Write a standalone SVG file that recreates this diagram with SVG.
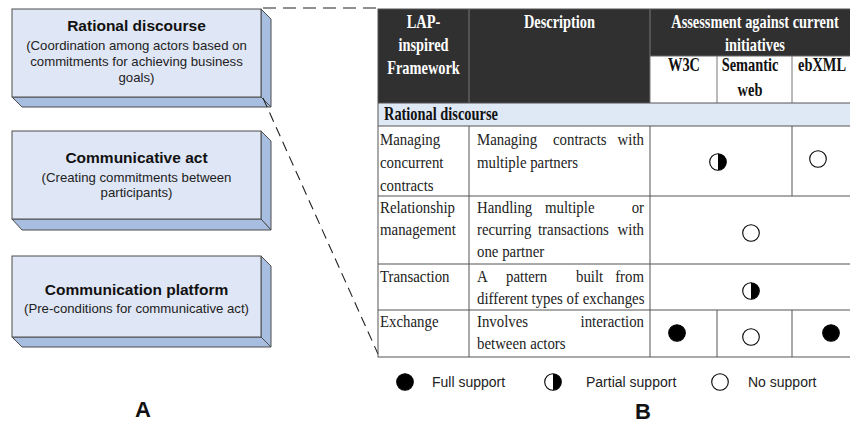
<svg xmlns="http://www.w3.org/2000/svg" width="850" height="423" viewBox="0 0 850 423">
  <style>
    .front { fill: #dfe6f5; stroke: #4d4d4d; stroke-width: 1; }
    .side { fill: #a8bee1; stroke: #4d4d4d; stroke-width: 1; stroke-linejoin: round; }
    .btitle { font-family: "Liberation Sans", Arial, sans-serif; font-weight: bold; font-size: 15.5px; fill: #111; text-anchor: middle; }
    .bsub { font-family: "Liberation Sans", Arial, sans-serif; font-size: 13.2px; fill: #222; text-anchor: middle; }
    .dash1 { fill: none; stroke: #222; stroke-width: 1.1; stroke-dasharray: 13 7; }
    .dash2 { fill: none; stroke: #222; stroke-width: 1.1; stroke-dasharray: 10 6; }
    .grid { stroke: #555; stroke-width: 1; fill: none; }
    .hdr { font-family: "Liberation Serif", "Times New Roman", serif; font-weight: bold; font-size: 18px; fill: #fff; text-anchor: middle; }
    .sub { font-family: "Liberation Serif", "Times New Roman", serif; font-weight: bold; font-size: 18px; fill: #111; text-anchor: middle; }
    .sec { font-family: "Liberation Serif", "Times New Roman", serif; font-weight: bold; font-size: 18px; fill: #111; }
    .cell { font-family: "Liberation Serif", "Times New Roman", serif; font-size: 16.5px; fill: #222; }
    .end { text-anchor: end; }
    .dot { stroke: #000; stroke-width: 1.1; }
    .legend { font-family: "Liberation Sans", Arial, sans-serif; font-size: 14px; fill: #222; }
    .panel { font-family: "Liberation Sans", Arial, sans-serif; font-weight: bold; font-size: 22px; fill: #111; text-anchor: middle; }
  </style>
  <defs>
    <!-- support symbols -->
    <g id="full"><circle r="8.3" fill="#000" class="dot"/></g>
    <g id="none"><circle r="8.3" fill="#fff" class="dot"/></g>
    <g id="half">
      <circle r="8.3" fill="#fff" class="dot"/>
      <path d="M0,-8.3 A8.3,8.3 0 0 1 0,8.3 Z" fill="#000"/>
    </g>
  </defs>

  <rect width="850" height="423" fill="#fff"/>

  <!-- A: layered framework -->
  <g id="node-rational">
    <polygon class="side" points="261,9 271,19 271,107 261,97"/>
    <polygon class="side" points="12,97 261,97 271,107 22,107"/>
    <rect class="front" x="12" y="9" width="249" height="88"/>
    <text class="btitle" x="136.5" y="31">Rational discourse</text>
    <text class="bsub" x="136.5" y="50">(Coordination among actors based on</text>
    <text class="bsub" x="136.5" y="66">commitments for achieving business</text>
    <text class="bsub" x="136.5" y="82">goals)</text>
  </g>
  <g id="node-communicative">
    <polygon class="side" points="261,131 271,141 271,230 261,219"/>
    <polygon class="side" points="12,219 261,219 271,230 22,230"/>
    <rect class="front" x="12" y="131" width="249" height="88"/>
    <text class="btitle" x="136.5" y="163">Communicative act</text>
    <text class="bsub" x="136.5" y="182">(Creating commitments between</text>
    <text class="bsub" x="136.5" y="197">participants)</text>
  </g>
  <g id="node-platform">
    <polygon class="side" points="261,256 271,266 271,347 261,337"/>
    <polygon class="side" points="12,337 261,337 271,347 22,347"/>
    <rect class="front" x="12" y="256" width="249" height="81"/>
    <text class="btitle" x="136.5" y="295">Communication platform</text>
    <text class="bsub" x="136.5" y="313">(Pre-conditions for communicative act)</text>
  </g>

  <!-- zoom-in lines from the top layer to the table -->
  <g id="connectors">
    <line class="dash1" x1="263" y1="8" x2="380" y2="8"/>
    <line class="dash2" x1="263" y1="98" x2="378" y2="354"/>
  </g>

  <!-- B: assessment table (serif text is narrowed horizontally) -->
  <g id="table">
    <!-- header -->
    <rect x="378" y="9" width="474" height="94" fill="#303030"/>
    <rect x="650" y="56" width="202" height="47" fill="#fff"/>
    <line x1="650" y1="56" x2="852" y2="56" stroke="#666" stroke-width="1"/>
    <line x1="469" y1="9" x2="469" y2="103" stroke="#777" stroke-width="1"/>
    <line x1="650" y1="9" x2="650" y2="103" stroke="#777" stroke-width="1"/>
    <line x1="717" y1="56" x2="717" y2="103" stroke="#777" stroke-width="1"/>
    <line x1="792" y1="56" x2="792" y2="103" stroke="#777" stroke-width="1"/>

    <text class="hdr" transform="translate(423.5,28) scale(0.8,1)">LAP-</text>
    <text class="hdr" transform="translate(423.5,51) scale(0.8,1)">inspired</text>
    <text class="hdr" transform="translate(423.5,74) scale(0.8,1)">Framework</text>
    <text class="hdr" transform="translate(559.5,28) scale(0.8,1)">Description</text>
    <text class="hdr" transform="translate(755,28) scale(0.8,1)">Assessment against current</text>
    <text class="hdr" transform="translate(755,51) scale(0.8,1)">initiatives</text>
    <text class="sub" transform="translate(684,71) scale(0.8,1)">W3C</text>
    <text class="sub" transform="translate(750,71) scale(0.8,1)">Semantic</text>
    <text class="sub" transform="translate(750,96) scale(0.8,1)">web</text>
    <text class="sub" transform="translate(822,71) scale(0.8,1)">ebXML</text>

    <!-- section row -->
    <rect x="378" y="103" width="474" height="23" fill="#dfe8f5"/>
    <text class="sec" transform="translate(384,120) scale(0.8,1)">Rational discourse</text>

    <!-- grid -->
    <g class="grid">
      <rect x="378" y="9" width="474" height="348"/>
      <line x1="378" y1="103" x2="852" y2="103"/>
      <line x1="378" y1="126" x2="852" y2="126"/>
      <line x1="378" y1="196" x2="852" y2="196"/>
      <line x1="378" y1="264" x2="852" y2="264"/>
      <line x1="378" y1="310" x2="852" y2="310"/>
      <line x1="469" y1="126" x2="469" y2="357"/>
      <line x1="650" y1="126" x2="650" y2="357"/>
      <line x1="792" y1="126" x2="792" y2="196"/>
      <line x1="717" y1="310" x2="717" y2="357"/>
      <line x1="792" y1="310" x2="792" y2="357"/>
    </g>

    <!-- row: managing concurrent contracts -->
    <text class="cell" transform="translate(380,145) scale(0.9,1)">Managing</text>
    <text class="cell" transform="translate(380,168) scale(0.9,1)">concurrent</text>
    <text class="cell" transform="translate(380,191) scale(0.9,1)">contracts</text>
    <text class="cell" transform="translate(477,145) scale(0.9,1)">Managing</text>
    <text class="cell" transform="translate(553,145) scale(0.9,1)">contracts</text>
    <text class="cell end" transform="translate(644,145) scale(0.9,1)">with</text>
    <text class="cell" transform="translate(477,168) scale(0.9,1)">multiple partners</text>
    <use href="#half" x="718" y="162"/>
    <use href="#none" x="818" y="159"/>

    <!-- row: relationship management -->
    <text class="cell" transform="translate(380,213) scale(0.9,1)">Relationship</text>
    <text class="cell" transform="translate(380,235) scale(0.9,1)">management</text>
    <text class="cell" transform="translate(477,213) scale(0.9,1)">Handling</text>
    <text class="cell" transform="translate(545,213) scale(0.9,1)">multiple</text>
    <text class="cell end" transform="translate(644,213) scale(0.9,1)">or</text>
    <text class="cell" transform="translate(477,235) scale(0.9,1)">recurring</text>
    <text class="cell" transform="translate(538,235) scale(0.9,1)">transactions</text>
    <text class="cell end" transform="translate(644,235) scale(0.9,1)">with</text>
    <text class="cell" transform="translate(477,257) scale(0.9,1)">one partner</text>
    <use href="#none" x="751" y="233"/>

    <!-- row: transaction -->
    <text class="cell" transform="translate(380,282) scale(0.9,1)">Transaction</text>
    <text class="cell" transform="translate(477,282) scale(0.9,1)">A</text>
    <text class="cell" transform="translate(506,282) scale(0.9,1)">pattern</text>
    <text class="cell" transform="translate(576,282) scale(0.9,1)">built</text>
    <text class="cell end" transform="translate(644,282) scale(0.9,1)">from</text>
    <text class="cell" transform="translate(477,304) scale(0.9,1)">different types of exchanges</text>
    <use href="#half" x="751" y="291"/>

    <!-- row: exchange -->
    <text class="cell" transform="translate(380,327) scale(0.9,1)">Exchange</text>
    <text class="cell" transform="translate(477,327) scale(0.9,1)">Involves</text>
    <text class="cell end" transform="translate(644,327) scale(0.9,1)">interaction</text>
    <text class="cell" transform="translate(477,349) scale(0.9,1)">between actors</text>
    <use href="#full" x="677" y="333"/>
    <use href="#none" x="751" y="337"/>
    <use href="#full" x="831" y="333"/>
  </g>

  <!-- legend -->
  <g id="legend">
    <use href="#full" x="405" y="382"/>
    <text class="legend" x="432" y="387">Full support</text>
    <use href="#half" x="553" y="382"/>
    <text class="legend" x="586" y="387">Partial support</text>
    <use href="#none" x="720" y="382"/>
    <text class="legend" x="748" y="387">No support</text>
  </g>

  <!-- panel labels -->
  <text class="panel" x="143" y="417">A</text>
  <text class="panel" x="643" y="419">B</text>
</svg>
